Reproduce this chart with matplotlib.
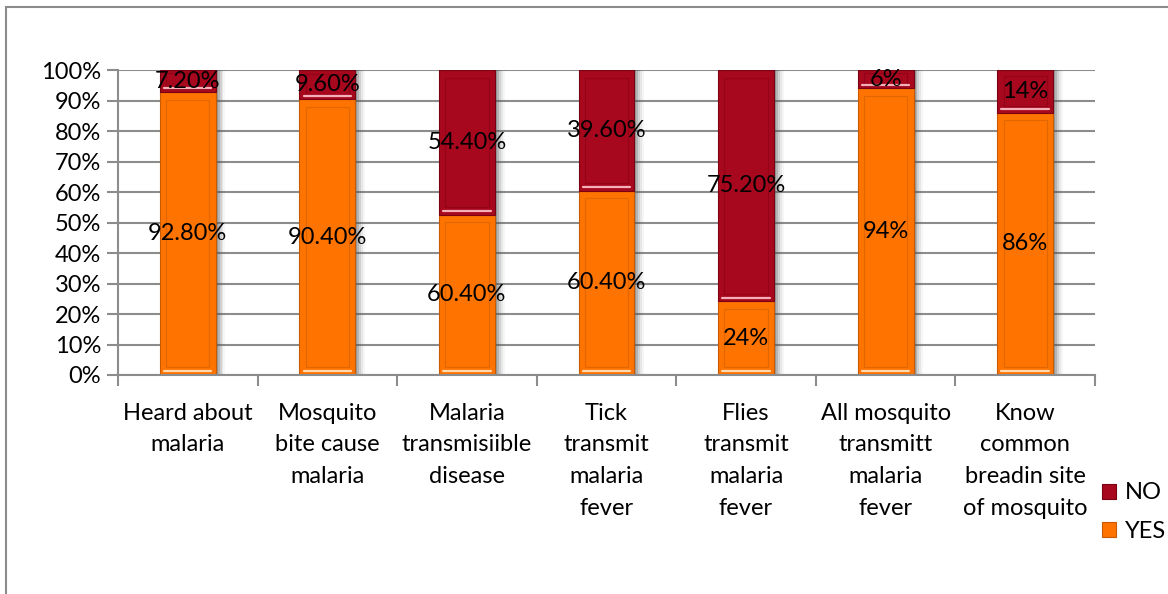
import matplotlib.pyplot as plt
from matplotlib.patches import Rectangle
import numpy as np

plt.rcParams['font.family'] = ['Lato', 'DejaVu Sans']

# Survey answers (percent of respondents)
categories = ['Heard about\nmalaria', 'Mosquito\nbite cause\nmalaria',
              'Malaria\ntransmisiible\ndisease', 'Tick\ntransmit\nmalaria\nfever',
              'Flies\ntransmit\nmalaria\nfever', 'All mosquito\ntransmitt\nmalaria\nfever',
              'Know\ncommon\nbreadin site\nof mosquito']
yes_vals = [92.8, 90.4, 60.4, 60.4, 24, 94, 86]
no_vals = [7.2, 9.6, 54.4, 39.6, 75.2, 6, 14]
yes_labels = ['92.80%', '90.40%', '60.40%', '60.40%', '24%', '94%', '86%']
no_labels = ['7.20%', '9.60%', '54.40%', '39.60%', '75.20%', '6%', '14%']

yes_color = '#FF7400'
no_color = '#A8081E'
grid_color = '#8C8C8C'
fs = 17

# 100% stacked: normalise each column
yes = np.array(yes_vals, dtype=float)
no = np.array(no_vals, dtype=float)
total = yes + no
yes_pct = yes / total * 100
no_pct = no / total * 100

fig = plt.figure(figsize=(11.68, 5.94), dpi=100)
fig.patches.append(Rectangle((6 / 1168, -0.1), 1.2, 1 - 7 / 594 + 0.1, transform=fig.transFigure,
                             fill=False, edgecolor='#8C8C8C', linewidth=1.5, zorder=0))
ax = fig.add_axes([0.101, 0.3687, 0.8365, 0.5133])

x = np.arange(len(categories))
width = 0.4

ax.set_xlim(-0.5, len(categories) - 0.5)
ax.set_ylim(0, 100)

# soft drop shadow to the right of each bar
for xi in x:
    for k, a in enumerate([0.30, 0.22, 0.15, 0.09, 0.05]):
        off = 0.014 * (k + 1)
        ax.add_patch(Rectangle((xi - width / 2 + off, -0.8), width, 100.8, facecolor='#555555',
                               alpha=a, edgecolor='none', zorder=1.5))

bars_yes = ax.bar(x, yes_pct, width, color=yes_color, edgecolor='#C85A00', linewidth=0.8,
                  label='YES', zorder=2)
bars_no = ax.bar(x, no_pct, width, bottom=yes_pct, color=no_color, edgecolor='#7A0014',
                 linewidth=0.8, label='NO', zorder=2)

# inner bevel outline and highlight line on each segment
for bottoms, heights, edge, hi in [(np.zeros_like(yes_pct), yes_pct, '#E36700', '#FFD9B0'),
                                   (yes_pct, no_pct, '#950318', '#F4B0B8')]:
    for xi, b, h in zip(x, bottoms, heights):
        inset_x = 0.045
        inset_y = min(2.5, h * 0.15)
        ax.add_patch(Rectangle((xi - width / 2 + inset_x, b + inset_y), width - 2 * inset_x,
                               h - 2 * inset_y, fill=False, edgecolor=edge, linewidth=0.9,
                               zorder=2.5))
        ax.plot([xi - width / 2 + 0.03, xi + width / 2 - 0.03], [b + 1.2, b + 1.2],
                color=hi, linewidth=1.6, solid_capstyle='round', zorder=2.6)

# data labels
for xi, yp, npct, yl, nl in zip(x, yes_pct, no_pct, yes_labels, no_labels):
    ax.text(xi, yp / 2, yl, ha='center', va='center', fontsize=fs, color='black', zorder=4)
    ax.text(xi, yp + npct / 2, nl, ha='center', va='center', fontsize=fs, color='black', zorder=4)

ax.set_yticks(np.arange(0, 101, 10))
ax.set_yticklabels([f'{v}%' for v in range(0, 101, 10)], fontsize=fs)
ax.yaxis.grid(True, color=grid_color, linewidth=1.5)
ax.set_axisbelow(True)

ax.set_xticks(x)
ax.set_xticklabels(categories, fontsize=fs, linespacing=1.63, va='top')
ax.tick_params(axis='x', length=0, pad=20)
ax.set_xticks(np.arange(-0.5, len(categories)), minor=True)
ax.tick_params(axis='x', which='minor', length=8, width=1.5, color=grid_color)
ax.tick_params(axis='y', length=8, width=1.5, color=grid_color, pad=4)

for side in ['top', 'right']:
    ax.spines[side].set_visible(False)
for side in ['left', 'bottom']:
    ax.spines[side].set_color(grid_color)
    ax.spines[side].set_linewidth(1.5)

ax.legend(handles=[bars_no, bars_yes], labels=['NO', 'YES'], loc='center left',
          bbox_to_anchor=(0.985, -0.45), frameon=False, fontsize=fs, handlelength=0.6,
          handleheight=0.6, handletextpad=0.4, labelspacing=0.75)

fig.savefig('out.png', dpi=100)
